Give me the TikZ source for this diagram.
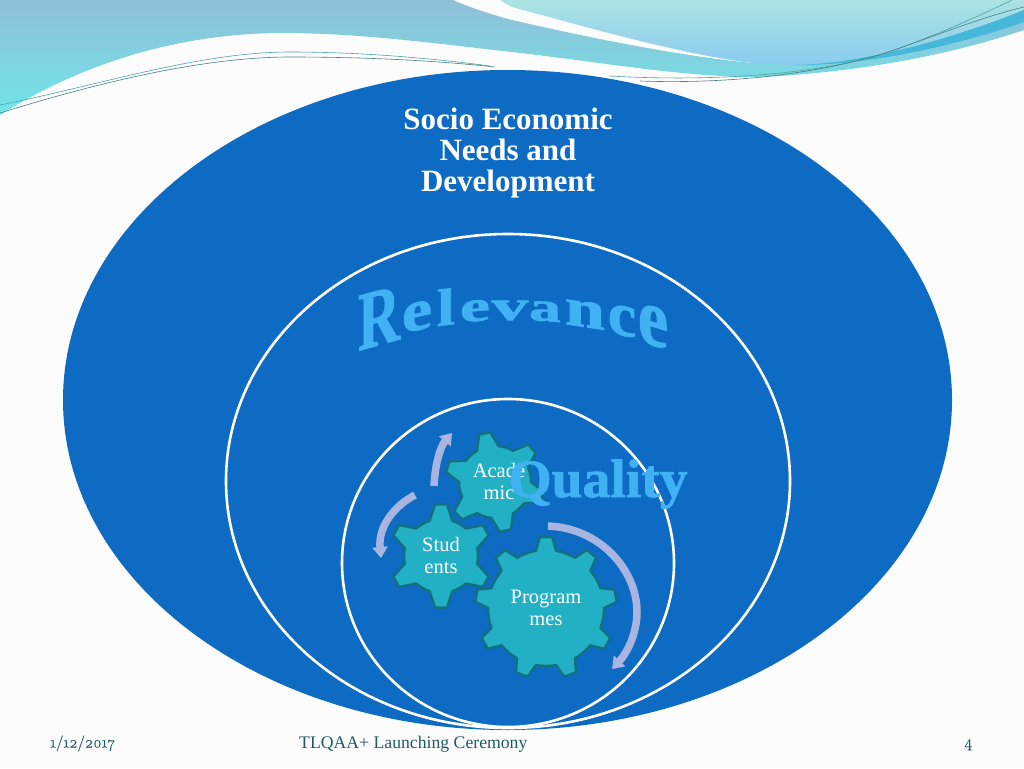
\documentclass[tikz,border=0pt]{standalone}
\usepackage{fontspec}
\setmainfont{Liberation Serif}
\newfontfamily\oldnum[Numbers=OldStyle,FakeBold=0.25]{Latin Modern Roman}
\newfontfamily\wordfont[UprightFont={* Bold},FakeBold=1.3]{Liberation Serif}
\usetikzlibrary{arrows.meta}
\definecolor{bgwhite}{HTML}{FCFCFC}
\definecolor{deepblue}{HTML}{0E6BC4}
\definecolor{gearfill}{HTML}{22B0C4}
\definecolor{gearline}{HTML}{12707F}
\definecolor{flow}{HTML}{A9B5E0}
\definecolor{footerc}{HTML}{1F5A66}
\definecolor{wordmain}{HTML}{40B2F4}
\definecolor{bandtop}{HTML}{90BFD8}
\definecolor{bandlow}{HTML}{6FE6E8}
\definecolor{lighttop}{HTML}{ABE3E2}
\definecolor{lightlow}{HTML}{8BCBEF}
\definecolor{bandmid}{HTML}{45B8DA}
\tikzset{
  ring/.style={draw=white,line width=2.6pt},
  geartext/.style={text=white,align=center,inner sep=0pt,font=\fontsize{20.5}{22}\selectfont},
  flowarrow/.style={draw=flow,line width=7.5pt,-{Triangle[width=15pt,length=11pt]}},
  footertext/.style={text=footerc,inner sep=0pt,font=\fontsize{17.7}{20}\selectfont},
  thinteal/.style={draw=teal!70!white,line width=.6pt},
  thingray/.style={draw=gray!60!teal,line width=.6pt},
  wordletter/.style={inner sep=0pt,anchor=base,transform shape,text=wordmain,font=\wordfont\fontsize{40}{40}\selectfont}
}
% cx cy rout rbase teeth phase halfbase halftop
\newcommand\gearoutline[8]{%
  \gdef\gearpts{}%
  \foreach \k in {1,...,#5}{%
    \pgfmathsetmacro\aa{#6+(\k-1)*360/#5}%
    \pgfmathsetmacro\gapstep{(360/#5-2*#7)/4}%
    \foreach \da/\rr in {-#7/#4,-#8/#3,#8/#3,#7/#4}{%
      \pgfmathsetmacro\px{#1+\rr*cos(\aa+\da)}%
      \pgfmathsetmacro\py{#2-\rr*sin(\aa+\da)}%
      \xdef\gearpts{\gearpts (\px,\py) -- }%
    }%
    \foreach \j in {1,2,3}{%
      \pgfmathsetmacro\px{#1+#4*cos(\aa+#7+\j*\gapstep)}%
      \pgfmathsetmacro\py{#2-#4*sin(\aa+#7+\j*\gapstep)}%
      \xdef\gearpts{\gearpts (\px,\py) -- }%
    }%
  }%
  \draw[fill=gearfill,draw=gearline,line width=2.4pt,line join=round] \gearpts cycle;%
}
\begin{document}
\begin{tikzpicture}[x=1pt,y=-1pt]
\useasboundingbox (0,0) rectangle (1024,768);
\fill[bgwhite] (0,0) rectangle (1024,768);
% header bands
\path[top color=bandtop,bottom color=bandlow]
  (0,0) -- (453,0) .. controls (480,12) and (512,20) .. (512,20)
  .. controls (590,38) and (680,56) .. (752,63)
  -- (1024,10) -- (1024,30)
  .. controls (950,55) and (860,72) .. (762,77)
  .. controls (690,78) and (600,62) .. (512,52)
  .. controls (440,44) and (360,33) .. (283,33)
  .. controls (190,33) and (90,58) .. (0,115) -- cycle;
\path[top color=lighttop,bottom color=lightlow]
  (500,0) -- (1024,0) -- (1024,10)
  .. controls (950,40) and (860,64) .. (795,65)
  -- (752,63) .. controls (680,54) and (590,28) .. (512,7) .. controls (508,5) and (504,3) .. (500,0) -- cycle;
\fill[bandmid] (1024,10) .. controls (950,40) and (860,64) .. (795,65)
  .. controls (860,66) and (950,48) .. (1024,22) -- cycle;
\draw[thinteal] (0,105) .. controls (100,85) and (200,52) .. (290,52) .. controls (360,52) and (430,58) .. (490,66);
\draw[thingray] (0,113) .. controls (90,85) and (200,57) .. (290,57) .. controls (360,57) and (430,60) .. (495,67);
\draw[thinteal] (609,76) .. controls (680,80) and (790,80) .. (880,55) .. controls (930,38) and (975,18) .. (1012,0);
\draw[thingray] (640,81) .. controls (720,84) and (820,76) .. (900,48) .. controls (950,30) and (990,15) .. (1024,7);
% ellipses
\fill[deepblue] (507.5,400) ellipse [x radius=444.5,y radius=330];
\draw[ring] (508,481) ellipse [x radius=282,y radius=247];
\draw[ring] (508,563) ellipse [x radius=166,y radius=164];
% title
\node[text=white,align=center,inner sep=0pt,font=\fontsize{31}{31}\selectfont\bfseries] (title) at (508,153) {Socio Economic\\Needs and\\Development};
% flow arrows
\coordinate (fa) at (548,526);
\coordinate (fb) at (612,669);
\coordinate (fc) at (415,495);
\coordinate (fd) at (381,558);
\coordinate (fe) at (434,486);
\coordinate (ff) at (452,433);
\draw[flowarrow] (fa) .. controls (600,528) and (637,570) .. (637,612) .. controls (637,632) and (628,652) .. (fb);
\draw[flowarrow] (fc) .. controls (396,505) and (378,525) .. (fd);
\draw[flowarrow] (fe) .. controls (435,465) and (440,447) .. (ff);
% gears
\gearoutline{495}{482}{50}{36}{6}{42}{18}{6.5}
\gearoutline{441}{556}{52}{37}{6}{30}{18}{6.5}
\gearoutline{546}{608}{71}{58}{9}{10}{10}{5}
\node[geartext] (academic) at (499,481) {Acade\\mic};
\node[geartext] (students) at (441,555) {Stud\\ents};
\node[geartext] (programmes) at (546,608) {Program\\mes};
% word art
\foreach \ch/\xx/\yy/\sl/\xs/\ys in {R/379/345/.28/1.45/2.08,e/417/330/.22/1.69/1.47,l/446/325/.12/1.65/1.3,e/475/321/.08/1.69/1.1,v/510/320/0/1.85/1.05,a/545/321/-.08/1.6/1.03,n/585/327/-.15/1.8/1.35,c/622/335/-.22/1.6/1.55,e/653/345/-.3/1.7/2.05}{%
  \node[wordletter,yslant=\sl,xscale=\xs,yscale=\ys] at (\xx,\yy) {\ch};
}
\node[inner sep=0pt,anchor=base,transform shape,xscale=1.03,text=wordmain,font=\wordfont\fontsize{54}{54}\selectfont] (quality) at (598,497) {Quality};
% footer
\node[footertext,anchor=base west,font=\oldnum\fontsize{16}{20}\selectfont] (date) at (50,747.5) {1/12/2017};
\node[footertext,anchor=base west] (event) at (299,748) {TLQAA+ Launching Ceremony};
\node[footertext,anchor=base west,font=\oldnum\fontsize{17}{20}\selectfont] (page) at (964,747) {4};
\end{tikzpicture}
\end{document}
